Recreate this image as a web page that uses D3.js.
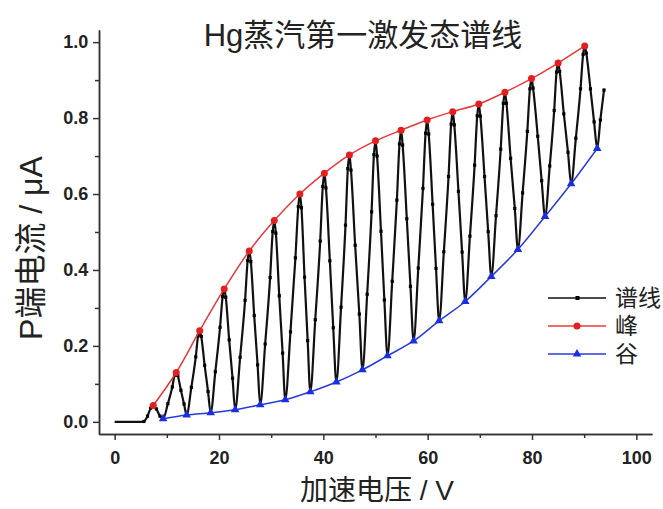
<!DOCTYPE html>
<html>
<head>
<meta charset="utf-8">
<script src="https://cdn.jsdelivr.net/npm/d3@7"></script>
<style>
  body { margin: 0; background: #fff; }
  svg { display: block; }
  .tick text { font-family: "Liberation Sans", Arial, sans-serif; font-weight: bold; font-size: 18px; fill: #222; }
  .axis path, .axis line { stroke: #333; stroke-width: 1.5; }
  .lbl { font-family: "Liberation Sans", "Noto Sans CJK SC", sans-serif; fill: #222; }
</style>
</head>
<body>
<svg width="663" height="509"></svg>
<script>
// spectrum: [voltage V, current uA]
var spectrum = [
  [0,0],[1,0],[2,0],[3,0],[4,0],[5,0],[5.6,0.001],[6.3,0.015],[6.9,0.036],[7.4,0.043],[8.0,0.034],[8.7,0.015],
  [9.3,0.008],[10.2,0.048],[11.05,0.092],[11.5,0.123],[11.8,0.13],[12.1,0.122],[12.7,0.083],[13.3,0.047],
  [13.8,0.018],[14.7,0.091],[15.55,0.171],[16.0,0.227],[16.3,0.24],[16.6,0.225],[17.25,0.149],[17.9,0.080],
  [18.4,0.024],[19.3,0.132],[20.2,0.249],[20.7,0.330],[21.0,0.35],[21.3,0.328],[21.95,0.216],[22.6,0.115],
  [23.1,0.032],[24.05,0.170],[25.0,0.320],[25.5,0.425],[25.8,0.45],[26.1,0.422],[26.75,0.280],[27.4,0.150],
  [27.9,0.045],[28.85,0.205],[29.8,0.380],[30.3,0.501],[30.6,0.53],[30.9,0.497],[31.55,0.332],[32.2,0.181],
  [32.7,0.058],[33.7,0.237],[34.65,0.432],[35.2,0.567],[35.5,0.60],[35.8,0.564],[36.4,0.381],[37.0,0.214],
  [37.5,0.079],[38.45,0.269],[39.4,0.476],[39.9,0.620],[40.2,0.655],[40.5,0.616],[41.25,0.424],[41.9,0.248],
  [42.5,0.105],[43.4,0.302],[44.25,0.518],[44.7,0.667],[45.0,0.703],[45.3,0.663],[46.1,0.465],[46.9,0.284],
  [47.5,0.137],[48.4,0.336],[49.25,0.553],[49.7,0.704],[50.0,0.74],[50.3,0.700],[51.05,0.502],[51.7,0.321],
  [52.3,0.174],[53.2,0.370],[54.1,0.584],[54.6,0.732],[54.9,0.768],[55.2,0.729],[56.0,0.535],[56.7,0.357],
  [57.3,0.213],[58.2,0.405],[59.1,0.615],[59.6,0.760],[59.9,0.795],[60.2,0.758],[60.95,0.573],[61.6,0.404],
  [62.2,0.266],[63.1,0.448],[64.0,0.646],[64.5,0.784],[64.8,0.817],[65.1,0.782],[65.9,0.607],[66.6,0.447],
  [67.2,0.317],[68.1,0.489],[69.0,0.676],[69.5,0.806],[69.8,0.837],[70.1,0.805],[70.9,0.646],[71.6,0.501],
  [72.2,0.383],[73.1,0.543],[74.0,0.718],[74.5,0.839],[74.8,0.868],[75.1,0.839],[75.9,0.694],[76.7,0.562],
  [77.3,0.454],[78.2,0.603],[79.1,0.765],[79.6,0.877],[79.9,0.904],[80.2,0.879],[81.1,0.752],[81.85,0.635],
  [82.5,0.541],[83.4,0.674],[84.25,0.820],[84.7,0.921],[85.0,0.945],[85.3,0.923],[86.1,0.811],[86.9,0.710],
  [87.5,0.627],[88.4,0.747],[89.3,0.877],[89.8,0.968],[90.1,0.99],[90.4,0.971],[91.2,0.877],[91.9,0.790],
  [92.5,0.72],[93.1,0.795],[93.8,0.874]
];

var peakV = [7.4, 11.8, 16.3, 21.0, 25.8, 30.6, 35.5, 40.2, 45.0, 50.0, 54.9, 59.9, 64.8, 69.8, 74.8, 79.9, 85.0, 90.1];
var peakI = [0.043, 0.13, 0.24, 0.35, 0.45, 0.53, 0.60, 0.655, 0.703, 0.74, 0.768, 0.795, 0.817, 0.837, 0.868, 0.904, 0.945, 0.99];

var valleyV = [9.3, 13.8, 18.4, 23.1, 27.9, 32.7, 37.5, 42.5, 47.5, 52.3, 57.3, 62.2, 67.2, 72.2, 77.3, 82.5, 87.5, 92.5];
var valleyI = [0.008, 0.018, 0.024, 0.032, 0.045, 0.058, 0.079, 0.105, 0.137, 0.174, 0.213, 0.266, 0.317, 0.383, 0.454, 0.541, 0.627, 0.72];

var xTicks = [0, 20, 40, 60, 80, 100];
var xMinor = [10, 30, 50, 70, 90];
var yTicks = [0, 0.2, 0.4, 0.6, 0.8, 1.0];
var yMinor = [0.1, 0.3, 0.5, 0.7, 0.9];

var legendNames = ["谱线", "峰", "谷"];

var svg = d3.select("svg");

var x = d3.scaleLinear().domain([-3, 103]).range([99, 652]);
var y = d3.scaleLinear().domain([-0.032, 1.032]).range([434, 30]);

// axes
svg.append("g")
    .attr("class", "axis")
    .attr("transform", "translate(0,434)")
    .call(d3.axisBottom(x).tickValues(xMinor).tickFormat("").tickSize(4).tickSizeOuter(0));
var gx = svg.append("g")
    .attr("class", "axis")
    .attr("transform", "translate(0,434)")
    .call(d3.axisBottom(x).tickValues(xTicks).tickFormat(d3.format("d")).tickSize(6).tickSizeOuter(0));
gx.selectAll(".tick text").attr("dy", "1.15em");

svg.append("g")
    .attr("class", "axis")
    .attr("transform", "translate(99,0)")
    .call(d3.axisLeft(y).tickValues(yMinor).tickFormat("").tickSize(4).tickSizeOuter(0));
var gy = svg.append("g")
    .attr("class", "axis")
    .attr("transform", "translate(99,0)")
    .call(d3.axisLeft(y).tickValues(yTicks).tickFormat(d3.format(".1f")).tickSize(6).tickSizeOuter(0));
gy.selectAll(".tick text").attr("dx", "-0.1em");

// spectrum line
var line = d3.line()
    .x(function(d) { return x(d[0]); })
    .y(function(d) { return y(d[1]); })
    .curve(d3.curveMonotoneX);

svg.append("path")
    .datum(spectrum)
    .attr("fill", "none")
    .attr("stroke", "#111")
    .attr("stroke-width", 2.2)
    .attr("d", line);

svg.append("g").selectAll("rect")
    .data(spectrum.slice(6))
    .enter().append("rect")
    .attr("x", function(d) { return x(d[0]) - 1.6; })
    .attr("y", function(d) { return y(d[1]) - 1.6; })
    .attr("width", 3.2)
    .attr("height", 3.2)
    .attr("fill", "#000");

// peaks and valleys
var peaks = peakV.map(function(v, i) { return [v, peakI[i]]; });
var valleys = valleyV.map(function(v, i) { return [v, valleyI[i]]; });

var smooth = d3.line()
    .x(function(d) { return x(d[0]); })
    .y(function(d) { return y(d[1]); })
    .curve(d3.curveCatmullRom);

svg.append("path")
    .datum(peaks)
    .attr("fill", "none")
    .attr("stroke", "#e8383a")
    .attr("stroke-width", 1.5)
    .attr("d", smooth);

svg.append("g").selectAll("circle")
    .data(peaks)
    .enter().append("circle")
    .attr("cx", function(d) { return x(d[0]); })
    .attr("cy", function(d) { return y(d[1]); })
    .attr("r", 3.5)
    .attr("fill", "#e51e1e");

svg.append("path")
    .datum(valleys)
    .attr("fill", "none")
    .attr("stroke", "#2a3ad8")
    .attr("stroke-width", 1.5)
    .attr("d", smooth);

var tri = d3.symbol().type(d3.symbolTriangle).size(32);
svg.append("g").selectAll("path")
    .data(valleys)
    .enter().append("path")
    .attr("transform", function(d) { return "translate(" + x(d[0]) + "," + y(d[1]) + ")"; })
    .attr("d", tri)
    .attr("fill", "#1a2ee0");

// legend
var legColors = ["#111", "#e8383a", "#2a3ad8"];
var leg = svg.append("g").attr("transform", "translate(548,298)");
legendNames.forEach(function(name, i) {
    var g = leg.append("g").attr("transform", "translate(0," + (i * 28) + ")");
    g.append("line").attr("x1", 0).attr("x2", 58).attr("y1", 0).attr("y2", 0)
        .attr("stroke", legColors[i]).attr("stroke-width", 1.5);
    if (i === 0) {
        g.append("rect").attr("x", 27.5).attr("y", -2).attr("width", 4).attr("height", 4).attr("fill", "#000");
    } else if (i === 1) {
        g.append("circle").attr("cx", 29).attr("cy", 0).attr("r", 3.5).attr("fill", "#e51e1e");
    } else {
        g.append("path").attr("transform", "translate(29,0)").attr("d", tri).attr("fill", "#1a2ee0");
    }
    g.append("text").attr("class", "lbl").attr("x", 67).attr("y", 0).attr("dy", "0.36em")
        .style("font-size", "23px").text(name);
});

// titles
svg.append("text").attr("class", "lbl")
    .attr("x", 363).attr("y", 46)
    .attr("text-anchor", "middle")
    .style("font-size", "31px")
    .text("Hg蒸汽第一激发态谱线");

svg.append("text").attr("class", "lbl")
    .attr("x", 377).attr("y", 500)
    .attr("text-anchor", "middle")
    .style("font-size", "28px")
    .text("加速电压 / V");

svg.append("text").attr("class", "lbl")
    .attr("transform", "translate(42,248) rotate(-90)")
    .attr("text-anchor", "middle")
    .style("font-size", "32px")
    .text("P端电流 / μA");
</script>
</body>
</html>
